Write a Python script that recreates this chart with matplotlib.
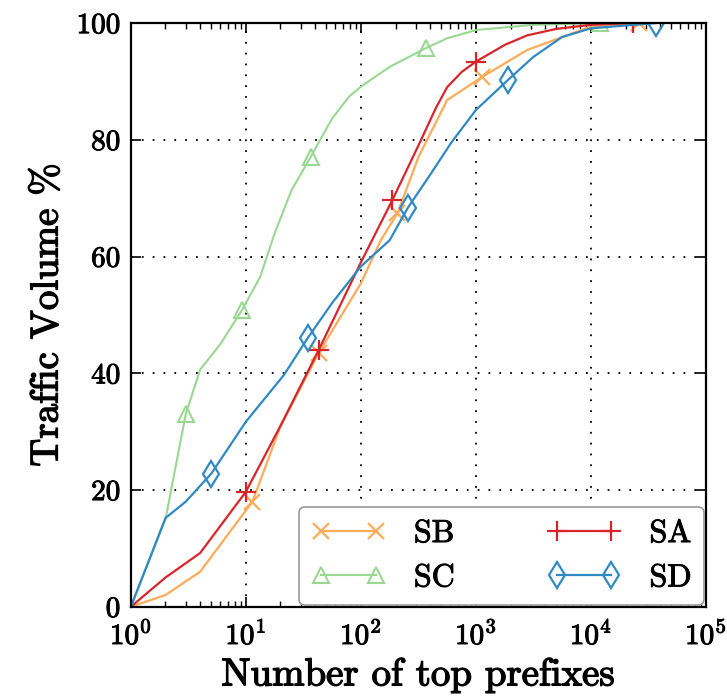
import matplotlib
matplotlib.use("Agg")
import matplotlib.pyplot as plt
import matplotlib.patheffects as pe

plt.rcParams["font.family"] = "serif"
plt.rcParams["font.serif"] = ["cmr10", "DejaVu Serif"]
plt.rcParams["mathtext.fontset"] = "cm"
plt.rcParams["axes.formatter.use_mathtext"] = True

# data
sb_x = [1, 2, 4, 11.4, 20, 43, 100, 149, 208, 316, 562, 1140, 2800, 10000, 26000]
sb_y = [0, 2, 6, 18, 30.9, 43.5, 55.4, 62.8, 67.4, 77, 86.8, 90.8, 95.4, 99.4, 100]
sb_marks = [3, 5, 8, 11, 14]

sc_x = [1, 2, 3, 4, 6, 9.3, 13.3, 17.8, 25, 36.7, 56, 79, 100, 178, 367, 562, 1000, 3160, 12000]
sc_y = [0, 15, 33, 40.6, 45, 50.9, 56.5, 64, 71.4, 77.1, 83.6, 87.4, 89.1, 92.5, 95.7, 97.4, 98.8, 99.7, 100]
sc_marks = [2, 5, 9, 14, 18]

sa_x = [1, 2, 4, 10, 20, 43, 100, 188, 316, 450, 562, 750, 1000, 1800, 2800, 5000, 10000, 23000]
sa_y = [0, 5, 9.2, 19.7, 31, 44, 59, 69.7, 79, 85.5, 89, 91.6, 93.4, 96.3, 97.9, 99, 99.7, 100]
sa_marks = [3, 5, 7, 12, 17]

sd_x = [1, 2, 3, 5, 10, 21.4, 34.4, 56, 100, 178, 255, 400, 610, 1000, 1888, 3160, 5600, 10000, 36700]
sd_y = [0, 15.2, 18, 22.8, 31.7, 39.7, 46, 52, 58.3, 62.8, 68.3, 74, 79.5, 85.1, 90.2, 94.2, 97.6, 99.1, 100]
sd_marks = [3, 6, 10, 14, 18]

bold = [pe.withStroke(linewidth=1.0, foreground="black")]
bold_small = [pe.withStroke(linewidth=0.7, foreground="black")]

fig = plt.figure(figsize=(7.27, 6.99), dpi=100)
ax = fig.add_axes([0.180, 0.132, 0.791, 0.835])

ax.plot(sb_x, sb_y, color="#feab5a", lw=1.6, marker="x", ms=12, mew=1.6,
        mfc="none", markevery=sb_marks, label="SB")
ax.plot(sc_x, sc_y, color="#98d891", lw=1.5, marker="^", ms=12, mew=1.5,
        mfc="none", markevery=sc_marks, label="SC")
ax.plot(sa_x, sa_y, color="#d7262b", lw=1.6, marker="+", ms=14, mew=1.6,
        mfc="none", markevery=sa_marks, label="SA")
ax.plot(sd_x, sd_y, color="#3089c2", lw=1.6, marker="d", ms=13, mew=1.6,
        mfc="none", markevery=sd_marks, label="SD")

ax.set_xscale("log")
ax.set_xlim(1, 1e5)
ax.set_ylim(0, 100)
ax.set_yticks([0, 20, 40, 60, 80, 100])

ax.grid(True, which="major", color="black", linestyle=(0, (1, 5)), linewidth=1.3)
ax.tick_params(axis="both", which="both", direction="in", top=True, right=True)
ax.tick_params(axis="both", which="major", labelsize=21, length=7, width=1.2)
ax.tick_params(axis="x", which="major", pad=10)
ax.tick_params(axis="y", which="major", pad=7)
ax.tick_params(axis="x", which="minor", length=4, width=1)
for s in ax.spines.values():
    s.set_linewidth(1.6)
for lab in ax.get_xticklabels() + ax.get_yticklabels():
    lab.set_path_effects(bold_small)

ax.set_xlabel("Number of top prefixes", fontsize=28, labelpad=5, path_effects=bold)
ax.set_ylabel("Traffic Volume %", fontsize=28, labelpad=8, path_effects=bold)

leg = ax.legend(loc="lower right", ncol=2, fontsize=23, numpoints=2,
                handlelength=2.3, handletextpad=0.9, columnspacing=2.9,
                borderaxespad=0.05, labelspacing=0.5,
                fancybox=True, edgecolor="#999999", framealpha=1)
leg.get_frame().set_linewidth(1.2)
for t in leg.get_texts():
    t.set_path_effects(bold_small)

plt.savefig("out.png", dpi=100)
